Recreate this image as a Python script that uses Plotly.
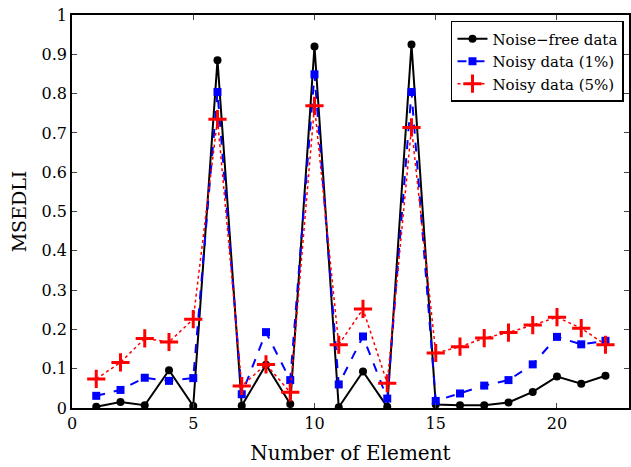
import plotly.graph_objects as go

elements = list(range(1, 23))
noise_free = [0.003, 0.015, 0.007, 0.096, 0.005, 0.885, 0.006, 0.110, 0.010, 0.920, 0.002,
              0.093, 0.003, 0.925, 0.009, 0.007, 0.007, 0.014, 0.041, 0.080, 0.062, 0.082]
noisy_1 = [0.031, 0.046, 0.077, 0.069, 0.076, 0.804, 0.035, 0.193, 0.071, 0.849, 0.060,
           0.182, 0.024, 0.804, 0.018, 0.037, 0.057, 0.071, 0.111, 0.181, 0.162, 0.171]
noisy_5 = [0.074, 0.116, 0.177, 0.168, 0.226, 0.735, 0.056, 0.111, 0.040, 0.769, 0.161,
           0.252, 0.063, 0.714, 0.140, 0.156, 0.178, 0.192, 0.211, 0.231, 0.203, 0.161]
x_ticks = [0, 5, 10, 15, 20]
y_ticks = [0, 0.1, 0.2, 0.3, 0.4, 0.5, 0.6, 0.7, 0.8, 0.9, 1]
y_labels = ["0", "0.1", "0.2", "0.3", "0.4", "0.5", "0.6", "0.7", "0.8", "0.9", "1"]

FONT = "DejaVu Serif"

fig = go.Figure()
fig.add_trace(go.Scatter(x=elements, y=noise_free, mode="lines+markers", name="Noise\u2212free data",
                         line=dict(color="black", width=2),
                         marker=dict(symbol="circle", size=8, color="black")))
fig.add_trace(go.Scatter(x=elements, y=noisy_1, mode="lines+markers", name="Noisy data (1%)",
                         line=dict(color="#0000ff", width=2, dash="dash"),
                         marker=dict(symbol="square", size=8, color="#0000ff")))
fig.add_trace(go.Scatter(x=elements, y=noisy_5, mode="lines+markers", name="Noisy data (5%)",
                         line=dict(color="#ff0000", width=1.5, dash="dot"),
                         marker=dict(symbol="cross-thin", size=13, color="#ff0000",
                                     line=dict(color="#ff0000", width=3))))

fig.update_layout(
    width=631, height=467,
    margin=dict(l=72, r=0, t=15, b=59),
    paper_bgcolor="white", plot_bgcolor="white",
    font=dict(family=FONT, size=16, color="black"),
    showlegend=True,
    legend=dict(x=0.991, y=0.985, xanchor="right", yanchor="top",
                bgcolor="white", bordercolor="black", borderwidth=1.5,
                font=dict(family=FONT, size=15), tracegroupgap=0, itemwidth=30),
    xaxis=dict(range=[0, 22.97], tickvals=x_ticks, ticks="inside", ticklen=5,
               showline=True, linecolor="black", linewidth=1.5, mirror="ticks",
               showgrid=False, zeroline=False,
               title=dict(text="Number of Element", font=dict(size=20), standoff=14)),
    yaxis=dict(range=[0, 1], tickvals=y_ticks, ticktext=y_labels, ticks="inside", ticklen=5,
               showline=True, linecolor="black", linewidth=1.5, mirror="ticks",
               showgrid=False, zeroline=False,
               title=dict(text="MSEDLI", font=dict(size=19), standoff=10)),
)

fig.write_html("out.html")
